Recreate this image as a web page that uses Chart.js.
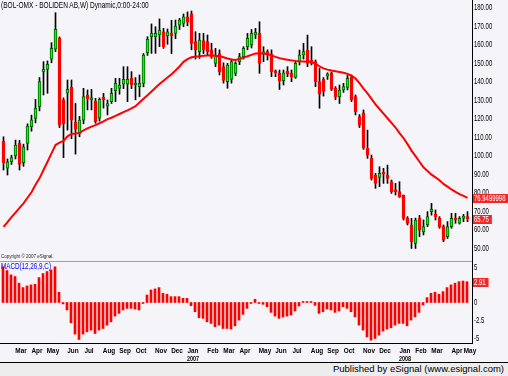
<!DOCTYPE html>
<html>
<head>
<meta charset="utf-8">
<script src="https://cdn.jsdelivr.net/npm/chart.js@4.4.1/dist/chart.umd.min.js"></script>
<style>
  html, body { margin: 0; padding: 0; background: #f5f4f8; }
  #wrap { position: relative; width: 508px; height: 376px; overflow: hidden; background: #f5f4f8; }
  canvas { position: absolute; left: 0; }
  #price { top: 0; }
  #macd { top: 262px; }
  .txt { position: absolute; white-space: nowrap; font-family: 'Liberation Sans', sans-serif; line-height: 1; transform-origin: 0 0; }
  #title { left: 1px; top: 1px; font-size: 8.5px; color: #000; transform: scaleX(0.77); }
  #copy { left: 1px; top: 255px; font-size: 4.5px; color: #222; }
  #macdLabel { left: 1px; top: 262px; font-size: 8.5px; color: #0000ff; transform: scaleX(0.74); }
  #pub { right: 4px; top: 364px; font-size: 9.5px; color: #000; }
  .line { position: absolute; left: 0; height: 1px; }
  #sep1 { top: 261px; width: 472px; background: #a0a0a0; }
  #sep2 { top: 362px; width: 508px; background: #000; }
  #foot { position: absolute; left: 0; top: 363px; width: 508px; height: 13px; background: #ededed; }
</style>
</head>
<body>
<div id="wrap">
  <div id="foot"></div>
  <canvas id="price" width="508" height="262"></canvas>
  <canvas id="macd" width="508" height="100"></canvas>
  <div class="line" id="sep1"></div>
  <div class="line" id="sep2"></div>
  <div class="txt" id="title">(BOL-OMX - BOLIDEN AB,W) Dynamic,0:00-24:00</div>
  <div class="txt" id="copy">Copyright © 2007 eSignal.</div>
  <div class="txt" id="macdLabel">MACD(12,26,9,C)</div>
  <div class="txt" id="pub">Published by eSignal (www.esignal.com)</div>
</div>
<script>
// weekly bars, dated by Monday
var weeks = [
  "2006-02-06","2006-02-13","2006-02-20","2006-02-27","2006-03-06","2006-03-13","2006-03-20","2006-03-27",
  "2006-04-03","2006-04-10","2006-04-17","2006-04-24","2006-05-01","2006-05-08","2006-05-15","2006-05-22",
  "2006-05-29","2006-06-05","2006-06-12","2006-06-19","2006-06-26","2006-07-03","2006-07-10","2006-07-17",
  "2006-07-24","2006-07-31","2006-08-07","2006-08-14","2006-08-21","2006-08-28","2006-09-04","2006-09-11",
  "2006-09-18","2006-09-25","2006-10-02","2006-10-09","2006-10-16","2006-10-23","2006-10-30","2006-11-06",
  "2006-11-13","2006-11-20","2006-11-27","2006-12-04","2006-12-11","2006-12-18","2006-12-25","2007-01-01",
  "2007-01-08","2007-01-15","2007-01-22","2007-01-29","2007-02-05","2007-02-12","2007-02-19","2007-02-26",
  "2007-03-05","2007-03-12","2007-03-19","2007-03-26","2007-04-02","2007-04-09","2007-04-16","2007-04-23",
  "2007-04-30","2007-05-07","2007-05-14","2007-05-21","2007-05-28","2007-06-04","2007-06-11","2007-06-18",
  "2007-06-25","2007-07-02","2007-07-09","2007-07-16","2007-07-23","2007-07-30","2007-08-06","2007-08-13",
  "2007-08-20","2007-08-27","2007-09-03","2007-09-10","2007-09-17","2007-09-24","2007-10-01","2007-10-08",
  "2007-10-15","2007-10-22","2007-10-29","2007-11-05","2007-11-12","2007-11-19","2007-11-26","2007-12-03",
  "2007-12-10","2007-12-17","2007-12-24","2007-12-31","2008-01-07","2008-01-14","2008-01-21","2008-01-28",
  "2008-02-04","2008-02-11","2008-02-18","2008-02-25","2008-03-03","2008-03-10","2008-03-17","2008-03-24",
  "2008-03-31","2008-04-07","2008-04-14","2008-04-21","2008-04-28"
];

var opens = [
  107.7, 93, 96.5, 99.6, 106.4, 96, 106.4, 115.5, 119.9, 126.3, 145, 146.4, 151.9, 157.3, 163.2, 129.9,
  133.5, 136.7, 118, 111.5, 119, 132.6, 129.9, 129.3, 120, 131.5, 126.6, 129, 134.9, 136.2, 138.5, 138.5,
  141.6, 138, 137.1, 138.9, 155.5, 164.1, 164.1, 165, 166.8, 164.5, 166, 165.9, 170.4, 171.3, 174.9, 176.5,
  161.4, 156, 162, 161.4, 156.9, 149.7, 155, 148, 139.8, 141, 144.3, 150.6, 153.3, 158.7, 159.6, 165,
  165.9, 154.6, 156, 154.8, 145.5, 144.3, 140.3, 145.5, 144.3, 142.1, 150.6, 154.2, 156.9, 151.5, 150.6, 139.8,
  141, 142.7, 144.6, 136.2, 131.7, 135.3, 136.7, 142.1, 131.7, 120.9, 123, 103.7, 98.3, 89.3, 88, 90.6,
  89.3, 85.7, 81.2, 80.3, 78.5, 65.9, 62.3, 52.3, 65.9, 58.6, 62.3, 69.5, 68, 65.9, 61.4, 56,
  61.4, 65.9, 63.2, 65.9, 66.5
];
var highs = [
  110, 98, 100, 108.2, 108, 106, 117, 121.7, 130.2, 142, 150.6, 151, 160.9, 177.1, 164, 131,
  140.7, 140.7, 128, 121, 136.2, 135.3, 135.6, 130.8, 131, 133.5, 129.9, 136.2, 141.6, 141.6, 147.9, 147.9,
  145.2, 142, 143.4, 155, 164.1, 171, 169.5, 173.7, 168.6, 168.3, 173, 173.1, 174, 176.4, 177.5, 178,
  166.8, 165.9, 165.9, 165, 160.5, 157.8, 157, 150, 149.7, 152, 150.6, 155.1, 158.7, 165.9, 168, 168.6,
  172.2, 158.7, 157, 157, 146.1, 146.1, 146.1, 147.9, 146.1, 150.6, 156.9, 160.5, 165, 158.7, 151.5, 147,
  142, 144.6, 145, 137.1, 138, 138.9, 143.4, 143.4, 132.6, 122, 124.5, 113.6, 100.1, 90.2, 93.8, 92.9,
  94.7, 86.6, 84.8, 85.7, 78.5, 66.8, 65.9, 66, 67.5, 65, 69.5, 74, 70.4, 66.8, 62.3, 64.1,
  68.6, 68.6, 66.8, 68, 69.5
];
var lows = [
  92, 89.3, 95, 98, 92, 94, 102.8, 113, 117.5, 124, 132.6, 133.5, 150, 156, 115, 98.7,
  113.6, 109, 100.6, 110, 117, 124.5, 124.5, 117.3, 118.5, 125.5, 121.8, 128, 129, 133, 136, 129,
  136, 130, 131.7, 137, 154, 155.1, 155.1, 158.7, 157.8, 160, 155, 163, 168, 169.5, 170, 157,
  152, 152.4, 155, 154, 152.4, 147.9, 143.4, 139, 136.2, 139, 143, 149, 152, 157, 158, 163,
  144.3, 150.6, 151.5, 142.5, 142.5, 135.6, 138, 142.5, 139.8, 141.6, 148.8, 152, 147.9, 148.8, 137.1, 125.4,
  132, 141, 135, 130, 128, 134, 135.3, 129, 121.8, 115, 103.2, 98.3, 86.6, 82.1, 83, 84.8,
  84.8, 79.4, 78.5, 77.2, 65, 62.3, 49.6, 49.6, 56, 56.9, 61.4, 67.6, 65, 60.5, 53.2, 55,
  60.5, 63.2, 62.8, 64.1, 64.1
];
var closes = [
  96, 96.5, 98.7, 105.5, 95.1, 104.6, 115.8, 119.1, 125.4, 139.8, 146.4, 149.2, 157.8, 168.1, 116.3, 117,
  135.6, 119, 114, 119, 131.7, 130.4, 131.1, 118.2, 130.2, 129.9, 128, 133.5, 138.9, 138, 141, 141,
  138, 138.9, 138.9, 154.2, 162.7, 165.9, 165.9, 167.7, 158.7, 166.8, 164.5, 169.9, 173.1, 174.9, 172, 160.5,
  157, 162.3, 157, 156, 153.3, 154.2, 145.2, 140.5, 148.8, 150.6, 149.7, 153.3, 157.8, 163.2, 165.9, 166.5,
  149.7, 156, 154.2, 145.2, 144.6, 140.3, 144.6, 143.9, 142.5, 149.7, 154.2, 156, 149.7, 149.7, 139.8, 133,
  134.5, 144, 135.6, 131.7, 135.3, 137.1, 141.6, 129.9, 123.6, 116.3, 104, 100.1, 87.5, 84.8, 90.2, 89.7,
  87.5, 80.3, 80.3, 77.6, 65.9, 63.1, 53.2, 65, 59.5, 61.4, 66.8, 70.7, 66.8, 61.4, 54.1, 61.4,
  65.9, 65, 65.9, 67.1, 65.75
];
var maValues = [
  61.3, 63.8, 66.5, 69, 71.5, 74, 77, 80, 84, 87.5, 92, 96.5, 101, 105.5, 106.8, 107.8,
  110.2, 111.5, 111.7, 112, 113.5, 114.5, 115.5, 116.3, 117.3, 118.3, 119.5, 120.3, 121.3, 122.3, 123.3, 124.3,
  125.3, 126.5, 128.5, 130.5, 132.5, 134.5, 136.5, 138.5, 140.3, 142, 143.8, 145.8, 148, 150.5, 152, 153,
  153.3, 153.5, 153.8, 153.9, 154, 153.8, 153.5, 153, 152.3, 151.8, 151.5, 152, 152.8, 153.5, 154.3, 155,
  155.2, 155, 154.6, 154, 153.2, 152.5, 152, 151.6, 151.3, 151, 150.8, 150.7, 150.6, 150.4, 149.5, 148,
  147, 146.3, 145.8, 145.4, 145, 144.6, 144, 143, 141.5, 139, 136, 133.5, 130.5, 127.5, 125, 122.5,
  120, 117.5, 115, 112, 109.3, 106, 102.5, 99.5, 96.5, 93.5, 91.5, 89.5, 88, 86.5, 84.5, 83,
  81.5, 80.2, 79, 78, 76.9499998
];
var macdValues = [
  5.0, 4.47, 3.86, 3.63, 2.7, 2.08, 2.32, 2.46, 2.55, 3.48, 4.05, 4.33, 4.56, 4.99, 1.43, -0.2,
  -1.05, -2.83, -4.42, -5.17, -4.42, -4.1, -3.86, -4.33, -3.86, -3.63, -3.16, -2.7, -1.9, -1.52, -1.05, -0.82,
  -0.82, -0.91, -1.05, -0.1, 1.05, 1.75, 1.9, 2.08, 1.29, 1.15, 0.82, 0.82, 0.82, 0.59, 0.59, -0.44,
  -1.29, -2.13, -2.22, -2.7, -2.92, -3.39, -3.16, -3.63, -3.63, -3.72, -3.26, -2.46, -1.66, -0.82, -0.1, 0.45,
  -0.1, -0.25, -0.59, -1.38, -1.9, -2.22, -2.04, -1.9, -1.76, -1.19, -0.49, 0.1, 0.1, 0.1, -0.4, -1.52,
  -1.29, -0.91, -1.05, -1.38, -1.19, -0.59, -0.82, -1.29, -2.0, -3.16, -3.86, -4.8, -5.27, -5.03, -4.56, -4.0,
  -3.72, -3.54, -3.16, -2.92, -2.92, -3.26, -2.46, -2.0, -1.38, -0.35, 0.68, 1.29, 1.43, 1.15, 1.52, 2.08,
  2.46, 2.7, 2.92, 3.0, 2.91
];
var priceTicks = [50, 60, 70, 80, 90, 100, 110, 120, 130, 140, 150, 160, 170, 180];
var macdTicks = [-5, -2.5, 0, 2.5, 5];
var monthNames = ["Jan","Feb","Mar","Apr","May","Jun","Jul","Aug","Sep","Oct","Nov","Dec"];

var last = weeks.length - 1;
var labelFont = "8.5px 'Liberation Sans', sans-serif";
var monthFont = "bold 8px 'Liberation Sans', sans-serif";

// month ticks: first weekly bar of every month, plus the month after the last bar
var monthTicks = [];
for (var i = 1; i <= weeks.length; i++) {
  var m = i < weeks.length ? +weeks[i].slice(5, 7) : (+weeks[last].slice(5, 7)) % 12 + 1;
  var y = i < weeks.length ? weeks[i].slice(0, 4) : weeks[last].slice(0, 4);
  var pm = +weeks[i - 1].slice(5, 7);
  if (m !== pm) {
    var name = monthNames[m - 1];
    monthTicks.push({ idx: Math.min(i + 0.5, weeks.length - 0.25), label: m === 1 ? [name, y] : [name] });
  }
}

// narrow eSignal-like text: draw squeezed horizontally
function narrowText(ctx, text, x, y, align, font, color, sx) {
  ctx.save();
  ctx.font = font;
  ctx.fillStyle = color;
  ctx.textBaseline = "middle";
  ctx.textAlign = "left";
  var w = ctx.measureText(text).width * sx;
  var left = align === "center" ? x - w / 2 : (align === "right" ? x - w : x);
  ctx.translate(left, y);
  ctx.scale(sx, 1);
  ctx.fillText(text, 0, 0);
  ctx.restore();
  return w;
}

function badge(ctx, x, y, text, toEdge) {
  ctx.save();
  ctx.font = labelFont;
  var w = toEdge ? 36 : ctx.measureText(text).width * 0.7 + 4;
  var cy = Math.round(y);
  ctx.fillStyle = "#f02828";
  ctx.fillRect(x, cy - 4, w, 9);
  ctx.restore();
  narrowText(ctx, text, x + 1, cy + 0.5, "left", labelFont, "#ffffff", 0.7);
}

function yLabels(ticks, fmt) {
  return {
    id: "yLabels",
    afterDraw: function (chart) {
      var ys = chart.scales.y, x = chart.chartArea.right + 2;
      ticks.forEach(function (v) {
        narrowText(chart.ctx, fmt(v), x, ys.getPixelForValue(v) + 0.5, "left", labelFont, "#000000", 0.7);
      });
    }
  };
}

var priceBadges = {
  id: "priceBadges",
  afterDraw: function (chart) {
    var ys = chart.scales.y, right = chart.chartArea.right;
    badge(chart.ctx, right + 1, ys.getPixelForValue(maValues[last]), String(maValues[last]), true);
    badge(chart.ctx, right + 1, ys.getPixelForValue(closes[last]), String(closes[last]), false);
  }
};

var macdExtras = {
  id: "macdExtras",
  afterDraw: function (chart) {
    var xs = chart.scales.x, ys = chart.scales.y, ctx = chart.ctx;
    var base = chart.chartArea.bottom;
    monthTicks.forEach(function (t) {
      var px = xs.getPixelForValue(t.idx);
      t.label.forEach(function (line, k) {
        var sx = /^\d+$/.test(line) ? 0.68 : 0.8;
        narrowText(ctx, line, px, base + 7.5 + k * 8, "center", monthFont, "#000000", sx);
      });
    });
    badge(ctx, chart.chartArea.right + 1, ys.getPixelForValue(macdValues[last]), String(macdValues[last]), false);
  }
};

new Chart(document.getElementById("price"), {
  type: "bar",
  data: {
    datasets: [
      {
        type: "line",
        data: maValues.map(function (v, i) { return { x: i, y: v }; }),
        borderColor: "#ff0000",
        borderWidth: 2,
        pointRadius: 0,
        order: 0
      },
      {
        data: opens.map(function (o, i) { return { x: i, y: [o, closes[i]] }; }),
        backgroundColor: closes.map(function (c, i) { return c >= opens[i] ? "#00ff00" : "#ff0000"; }),
        borderColor: closes.map(function (c, i) { return c >= opens[i] ? "#006000" : "#ff0000"; }),
        borderWidth: 1,
        borderSkipped: false,
        barThickness: 3,
        minBarLength: 2,
        grouped: false,
        order: 1
      },
      {
        data: lows.map(function (l, i) { return { x: i, y: [l, highs[i]] }; }),
        backgroundColor: "#000000",
        barThickness: 1,
        grouped: false,
        order: 2
      }
    ]
  },
  options: {
    responsive: false,
    animation: false,
    layout: { padding: { top: 0, bottom: 1, left: 0, right: 0 } },
    plugins: { legend: { display: false }, tooltip: { enabled: false } },
    scales: {
      x: { type: "linear", min: -0.875, max: 117.125, offset: false, display: false },
      y: {
        position: "right",
        min: 42.81,
        max: 183.95,
        afterBuildTicks: function (s) { s.ticks = priceTicks.map(function (v) { return { value: v }; }); },
        afterFit: function (s) { s.width = 36; s.paddingTop = 0; s.paddingBottom = 0; },
        grid: { display: false, drawTicks: false },
        border: { display: true, color: "#000000", width: 1 },
        ticks: { display: false }
      }
    }
  },
  plugins: [yLabels(priceTicks, function (v) { return v.toFixed(2); }), priceBadges]
});

new Chart(document.getElementById("macd"), {
  type: "bar",
  data: {
    datasets: [{
      data: macdValues.map(function (v, i) { return { x: i, y: v }; }),
      backgroundColor: "#ff0000",
      barThickness: 2,
      minBarLength: 1
    }]
  },
  options: {
    responsive: false,
    animation: false,
    layout: { padding: 0 },
    plugins: { legend: { display: false }, tooltip: { enabled: false } },
    scales: {
      x: {
        type: "linear",
        min: -0.75,
        max: 117.25,
        offset: false,
        afterBuildTicks: function (s) { s.ticks = monthTicks.map(function (t) { return { value: t.idx }; }); },
        afterFit: function (s) { s.height = 19; s.paddingLeft = 0; s.paddingRight = 0; },
        grid: { display: false, drawTicks: false },
        border: { display: true, color: "#000000", width: 1 },
        ticks: { display: false }
      },
      y: {
        position: "right",
        min: -5.66,
        max: 5.66,
        afterBuildTicks: function (s) { s.ticks = macdTicks.map(function (v) { return { value: v }; }); },
        afterFit: function (s) { s.width = 36; s.paddingTop = 0; s.paddingBottom = 0; },
        grid: { display: false, drawTicks: false },
        border: { display: true, color: "#000000", width: 1 },
        ticks: { display: false }
      }
    }
  },
  plugins: [yLabels(macdTicks, function (v) { return String(v); }), macdExtras]
});
</script>
</body>
</html>
